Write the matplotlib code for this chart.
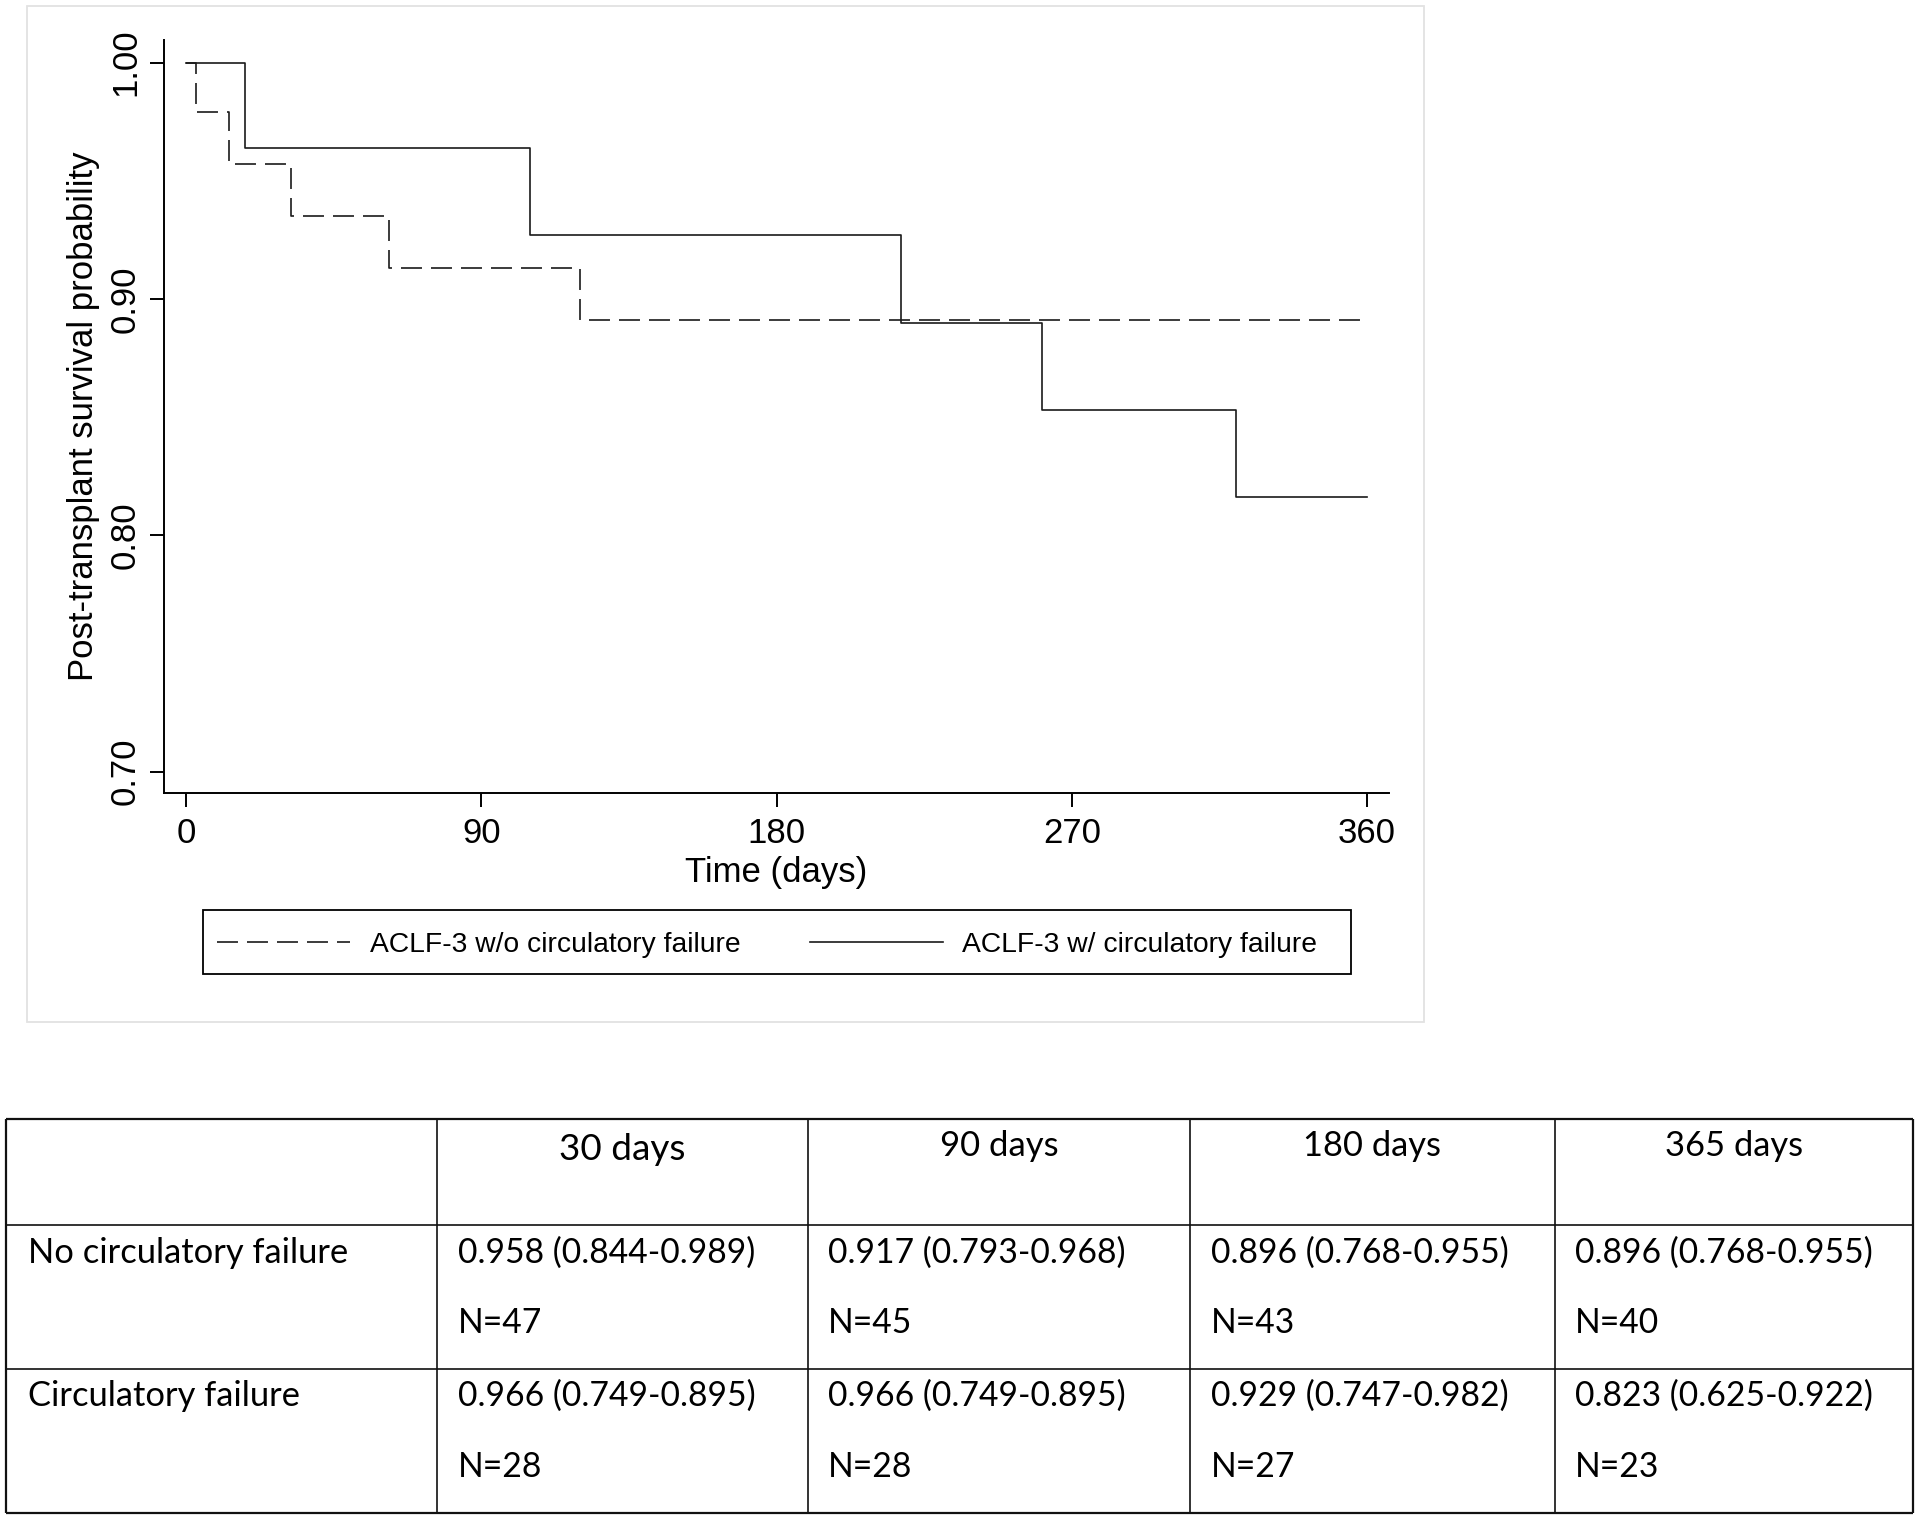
import matplotlib
matplotlib.use("Agg")
import matplotlib.pyplot as plt
from matplotlib.patches import Rectangle

# ---------------- data ----------------
time_no_cf = [0, 3, 13, 32, 62, 120, 360]
surv_no_cf = [1.000, 0.979, 0.957, 0.935, 0.913, 0.891, 0.891]
time_cf = [0, 18, 105, 218, 261, 320, 360]
surv_cf = [1.000, 0.964, 0.927, 0.890, 0.853, 0.816, 0.816]
legend_labels = ["ACLF-3 w/o circulatory failure", "ACLF-3 w/ circulatory failure"]
x_ticks = [0, 90, 180, 270, 360]
y_ticks = [0.70, 0.80, 0.90, 1.00]
y_ticklabels = ["0.70", "0.80", "0.90", "1.00"]

table_header = ["30 days", "90 days", "180 days", "365 days"]
row_labels = ["No circulatory failure", "Circulatory failure"]
est_no_cf = ["0.958 (0.844-0.989)", "0.917 (0.793-0.968)",
             "0.896 (0.768-0.955)", "0.896 (0.768-0.955)"]
n_no_cf = [47, 45, 43, 40]
est_cf = ["0.966 (0.749-0.895)", "0.966 (0.749-0.895)",
          "0.929 (0.747-0.982)", "0.823 (0.625-0.922)"]
n_cf = [28, 28, 27, 23]

# ---------------- style ----------------
plt.rcParams["font.family"] = ["Liberation Sans", "DejaVu Sans"]
plt.rcParams["lines.scale_dashes"] = False

W, H = 1920, 1520
fig = plt.figure(figsize=(W / 100, H / 100), dpi=100)


def fx(px):
    return px / W


def fy(py):
    return 1 - py / H


# ---------------- KM plot ----------------
ax_l, ax_r, ax_t, ax_b = 164, 1389, 40, 793.3
ax = fig.add_axes([fx(ax_l), fy(ax_b), fx(ax_r) - fx(ax_l), fy(ax_t) - fy(ax_b)])
line_col = "#1a1a1a"
l1, = ax.step(time_no_cf, surv_no_cf, where="post", color=line_col, lw=1.2,
              dashes=(15.1, 6.5))
l2, = ax.step(time_cf, surv_cf, where="post", color=line_col, lw=1.2)

ax.set_xlim(-6.7, 366.7)
ax.set_ylim(0.6908, 1.0096)
ax.set_xticks(x_ticks)
ax.set_xticklabels([str(t) for t in x_ticks])
ax.set_yticks(y_ticks)
ax.set_yticklabels(y_ticklabels, rotation=90, va="center")
for s in ["top", "right"]:
    ax.spines[s].set_visible(False)
for s in ["left", "bottom"]:
    ax.spines[s].set_linewidth(1.4)
    ax.spines[s].set_color("black")
ax.tick_params(axis="both", direction="out", length=10.4, width=1.4,
               colors="black", labelsize=25)
ax.tick_params(axis="x", pad=7)
ax.tick_params(axis="y", pad=5.4)
ax.set_xlabel("Time (days)", fontsize=25)
ax.set_ylabel("Post-transplant survival probability", fontsize=25)
ax.xaxis.set_label_coords(0.5, -0.0832)
ax.yaxis.set_label_coords(-0.0522, 0.5)

# legend (frame drawn separately to match the asymmetric Stata box)
leg_fs = 20.3
leg_em = leg_fs * 100 / 72
leg = ax.legend(handles=[l1, l2], labels=legend_labels, loc="center left",
                bbox_to_anchor=(fx(202.5), fy(945)),
                bbox_transform=fig.transFigure, ncol=2,
                fontsize=leg_fs, frameon=False, borderpad=14.8 / leg_em,
                handlelength=4.7, handletextpad=0.7, borderaxespad=0,
                columnspacing=70 / leg_em)

# ---------------- overlay (border, legend frame, table) ----------------
tab = fig.add_axes([0, 0, 1, 1])
tab.set_xlim(0, W)
tab.set_ylim(H, 0)
tab.axis("off")
tab.patch.set_alpha(0)

tab.add_patch(Rectangle((26.5, 5.7), 1424.3 - 26.5, 1021.7 - 5.7, fill=False,
                        ec="#e2e2e2", lw=1.3))
tab.add_patch(Rectangle((202.5, 910), 1351 - 202.5, 974 - 910, fill=False,
                        ec="black", lw=1.3))

col_edges = [5.7, 437.2, 807.7, 1190.2, 1554.6, 1913.3]
row_edges = [1119.3, 1225.3, 1369.3, 1512.7]
tcol = "#111111"
for i, y in enumerate(row_edges):
    lw = 1.6 if i in (0, len(row_edges) - 1) else 1.2
    tab.hlines(y, col_edges[0], col_edges[-1], color=tcol, lw=lw)
for i, x in enumerate(col_edges):
    lw = 1.6 if i in (0, len(col_edges) - 1) else 1.2
    tab.vlines(x, row_edges[0], row_edges[-1], color=tcol, lw=lw)

tfont = ["Lato", "DejaVu Sans"]
header_sizes = [26.6, 24.9, 24.8, 24.8]
header_base = [1160, 1156, 1156, 1156]
for j, h in enumerate(table_header):
    cx = (col_edges[j + 1] + col_edges[j + 2]) / 2
    tab.text(cx, header_base[j], h, ha="center", va="baseline",
             fontsize=header_sizes[j], family=tfont, color="black")

row_base = [1262.7, 1406.0]
n_base = [1333.3, 1476.7]
for r, lab in enumerate(row_labels):
    tab.text(col_edges[0] + 22, row_base[r], lab, ha="left", va="baseline",
             fontsize=24.8, family=tfont, color="black")
for r, (ests, ns) in enumerate([(est_no_cf, n_no_cf), (est_cf, n_cf)]):
    for j in range(4):
        x0 = col_edges[j + 1] + 20.5
        tab.text(x0, row_base[r], ests[j], ha="left", va="baseline",
                 fontsize=24.2, family=tfont, color="black")
        tab.text(x0, n_base[r], f"N={ns[j]}", ha="left", va="baseline",
                 fontsize=24.2, family=tfont, color="black")

fig.savefig("out.png", dpi=100, facecolor="white")
